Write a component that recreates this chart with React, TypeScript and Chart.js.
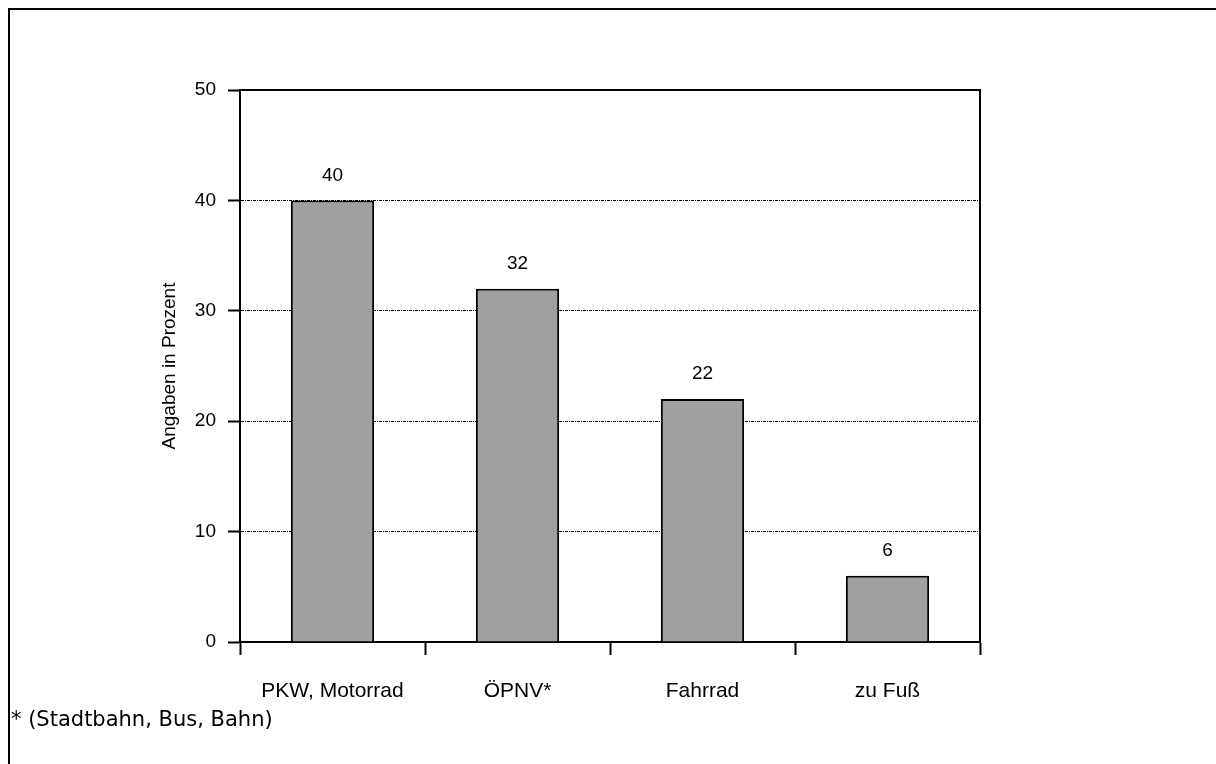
import React, { useEffect, useRef } from "react";
import { Chart, registerables } from "chart.js";

Chart.register(...registerables);

const categories = ["PKW, Motorrad", "ÖPNV*", "Fahrrad", "zu Fuß"];
const values = [40, 32, 22, 6];
const yTicks = [0, 10, 20, 30, 40, 50];
const yTitle = "Angaben in Prozent";
const footnote = "* (Stadtbahn, Bus, Bahn)";

const FONT = "'Liberation Sans', Arial, sans-serif";

export default function App() {
  const ref = useRef<HTMLCanvasElement | null>(null);

  useEffect(() => {
    if (!ref.current) return;

    const frame = {
      id: "plotFrame",
      afterDraw(chart: any) {
        const { ctx, chartArea } = chart;
        ctx.save();
        ctx.strokeStyle = "#000";
        ctx.lineWidth = 2;
        ctx.beginPath();
        ctx.moveTo(chartArea.left, chartArea.top);
        ctx.lineTo(chartArea.right, chartArea.top);
        ctx.lineTo(chartArea.right, chartArea.bottom);
        ctx.stroke();
        ctx.restore();
      },
    };

    const valueLabels = {
      id: "valueLabels",
      afterDatasetsDraw(chart: any) {
        const { ctx } = chart;
        const meta = chart.getDatasetMeta(0);
        ctx.save();
        ctx.fillStyle = "#000";
        ctx.font = `19px ${FONT}`;
        ctx.textAlign = "center";
        ctx.textBaseline = "middle";
        meta.data.forEach((bar: any, i: number) => {
          ctx.fillText(String(values[i]), bar.x, bar.y - 25);
        });
        ctx.restore();
      },
    };

    const chart = new Chart(ref.current, {
      type: "bar",
      data: {
        labels: categories,
        datasets: [
          {
            data: values,
            backgroundColor: "#a0a0a0",
            borderColor: "#000",
            borderWidth: 2,
            categoryPercentage: 1,
            barPercentage: 0.45,
          },
        ],
      },
      options: {
        animation: false,
        responsive: false,
        maintainAspectRatio: false,
        devicePixelRatio: 1,
        layout: { padding: { left: 0, top: 90, right: 236, bottom: 0 } },
        plugins: {
          legend: { display: false },
          tooltip: { enabled: false },
        },
        scales: {
          x: {
            afterFit(scale: any) {
              scale.height = 122;
            },
            grid: {
              offset: true,
              drawOnChartArea: false,
              drawTicks: true,
              tickLength: 13,
              tickWidth: 2,
              tickColor: "#000",
              color: "#000",
            },
            border: { display: true, color: "#000", width: 2 },
            ticks: {
              color: "#000",
              padding: 24,
              font: { family: FONT, size: 21 },
              maxRotation: 0,
              autoSkip: false,
            },
          },
          y: {
            min: 0,
            max: 50,
            afterFit(scale: any) {
              scale.width = 240;
            },
            afterBuildTicks(scale: any) {
              scale.ticks = yTicks.map((v) => ({ value: v }));
            },
            grid: {
              color: (c: any) =>
                c.tick && (c.tick.value === 0 || c.tick.value === 50) ? "rgba(0,0,0,0)" : "#000",
              lineWidth: 1,
              tickLength: 12,
              tickWidth: 2,
              tickColor: "#000",
              tickBorderDash: [],
            },
            border: { display: true, color: "#000", width: 2, dash: [3, 1, 1, 1] },
            ticks: {
              color: "#000",
              padding: 12,
              font: { family: FONT, size: 19 },
            },
            title: {
              display: true,
              text: yTitle,
              color: "#000",
              font: { family: FONT, size: 19 },
              padding: { top: 158, bottom: 0 },
            },
          },
        },
      },
      plugins: [frame, valueLabels],
    });
    return () => chart.destroy();
  }, []);

  return (
    <div
      style={{
        position: "fixed",
        left: 0,
        top: 0,
        width: 1216,
        height: 764,
        background: "#fff",
        overflow: "hidden",
      }}
    >
      <div
        style={{
          position: "absolute",
          left: 8,
          top: 8,
          width: 1208,
          height: 756,
          borderTop: "2px solid #000",
          borderLeft: "2px solid #000",
          boxSizing: "border-box",
        }}
      />
      <canvas
        ref={ref}
        width={1216}
        height={764}
        style={{ position: "absolute", left: 0, top: 0, width: 1216, height: 764 }}
      />
      <div
        style={{
          position: "absolute",
          left: 11,
          top: 709,
          fontFamily: "'DejaVu Sans', Verdana, sans-serif",
          fontSize: 21,
          lineHeight: "21px",
          color: "#000",
          whiteSpace: "nowrap",
        }}
      >
        {footnote}
      </div>
    </div>
  );
}
